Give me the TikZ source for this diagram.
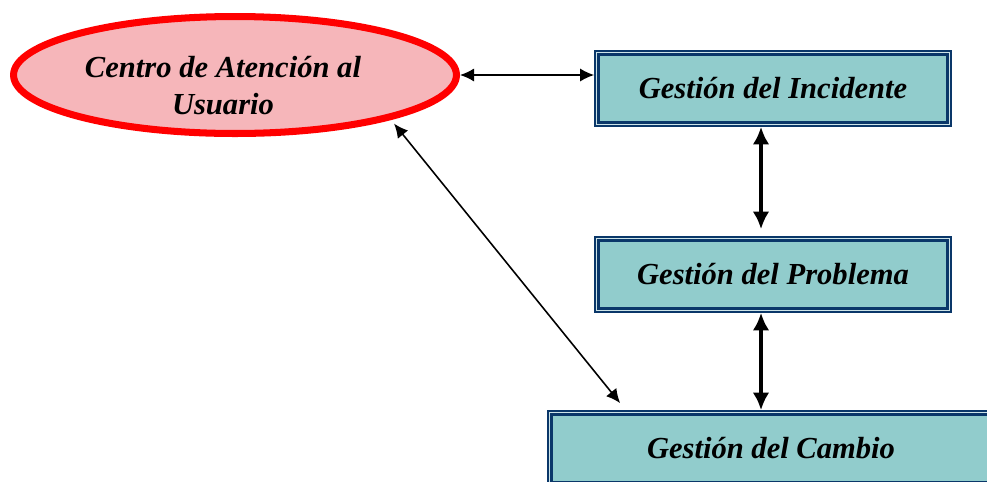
\documentclass[tikz,border=0pt]{standalone}
\usepackage{fontspec}
\setmainfont{Liberation Serif}
\usetikzlibrary{arrows.meta, shapes.geometric}
\definecolor{caured}{RGB}{255, 0, 0}
\definecolor{caupink}{RGB}{246, 182, 186}
\definecolor{gestblue}{RGB}{10, 55, 105}
\definecolor{gestteal}{RGB}{145, 204, 204}
\definecolor{gestgap}{RGB}{205, 228, 232}

\begin{document}
\begin{tikzpicture}[x=0.02cm, y=-0.02cm,
    font=\fontsize{17.4}{21}\selectfont\bfseries\itshape,
    ellipse_red/.style={
        ellipse, draw=caured, line width=4pt, fill=caupink,
        minimum width=8.86cm, minimum height=2.34cm, inner sep=0pt
    },
    gest_box/.style={
        rectangle, fill=gestteal, draw=gestblue, line width=1.7pt,
        preaction={draw=gestblue, line width=5.1pt},
        preaction={draw=gestgap, line width=3.4pt},
        minimum width=6.98cm, minimum height=1.36cm,
        inner sep=0pt, outer sep=2.5pt
    },
    link_thin/.style={{Latex[length=8pt, width=7.5pt]}-{Latex[length=8pt, width=7.5pt]},
        line width=0.9pt, black},
    link_thick/.style={{Latex[length=10pt, width=9.5pt]}-{Latex[length=10pt, width=9.5pt]},
        line width=1.9pt, black},
]
    \useasboundingbox (0,0) rectangle (987,481);

    \node[ellipse_red] (cau) at (235,75) {};
    \node[align=center] (cautext) at (223,86) {Centro de Atención al\\Usuario};

    \node[gest_box] (inc) at (773,88.5) {Gestión del Incidente};
    \node[gest_box] (pro) at (773,274.5) {Gestión del Problema};
    \node[gest_box, minimum width=8.78cm] (cam) at (771,448.5) {Gestión del Cambio};

    \draw[link_thin] (cau.east) -- (cau.east -| inc.west);
    \draw[link_thick, shorten >=0.14cm] ([xshift=-0.24cm]inc.south) -- ([xshift=-0.24cm]pro.north);
    \draw[link_thick] ([xshift=-0.24cm]pro.south) -- ([xshift=-0.24cm]pro.south |- cam.north);
    \draw[link_thin, shorten <=0.1cm] (cau.-16) -- ([xshift=1.46cm, yshift=0.14cm]cam.north west);

\end{tikzpicture}
\end{document}
